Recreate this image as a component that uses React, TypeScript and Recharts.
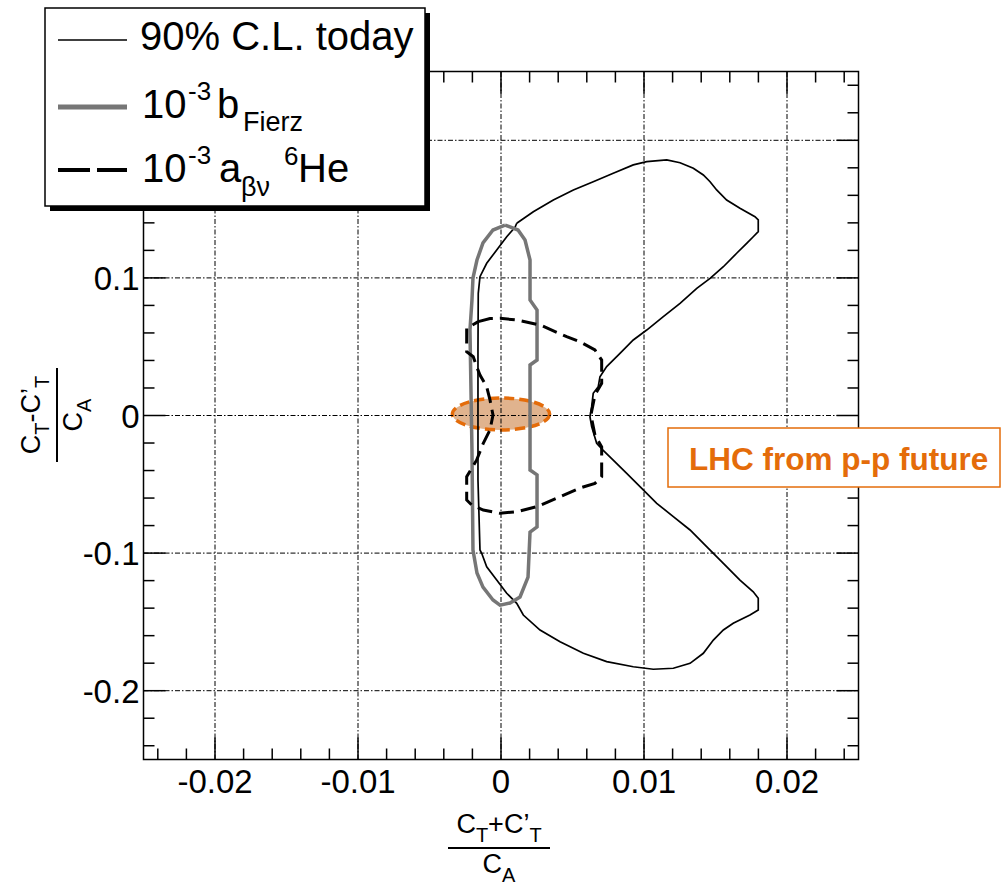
import React from 'react';
import { ScatterChart, Scatter, XAxis, YAxis, ReferenceLine, ReferenceArea } from 'recharts';

// ---------- data ----------
const X_DOMAIN: [number, number] = [-0.025, 0.025];
const Y_DOMAIN: [number, number] = [-0.25, 0.25];

const X_TICKS = [
  -0.024, -0.022, -0.02, -0.018, -0.016, -0.014, -0.012, -0.01, -0.008, -0.006, -0.004, -0.002,
  0, 0.002, 0.004, 0.006, 0.008, 0.01, 0.012, 0.014, 0.016, 0.018, 0.02, 0.022, 0.024,
];
const Y_TICKS = [
  -0.24, -0.22, -0.2, -0.18, -0.16, -0.14, -0.12, -0.1, -0.08, -0.06, -0.04, -0.02,
  0, 0.02, 0.04, 0.06, 0.08, 0.1, 0.12, 0.14, 0.16, 0.18, 0.2, 0.22, 0.24,
];
const X_MAJOR = [-0.02, -0.01, 0, 0.01, 0.02];
const X_LABELS = ['-0.02', '-0.01', '0', '0.01', '0.02'];
const Y_MAJOR = [-0.2, -0.1, 0, 0.1, 0.2];
const Y_LABELS = ['-0.2', '-0.1', '0', '0.1', '0.2'];

// 90% C.L. today (thin black contour)
const TODAY_CL = [
  { x: 0.0011, y: 0.1397 }, { x: 0.00226, y: 0.1481 }, { x: 0.00366, y: 0.1566 }, { x: 0.00506, y: 0.1639 },
  { x: 0.00645, y: 0.1699 }, { x: 0.00785, y: 0.176 }, { x: 0.00925, y: 0.1821 }, { x: 0.01019, y: 0.1845 },
  { x: 0.01159, y: 0.1857 }, { x: 0.01252, y: 0.1837 }, { x: 0.01345, y: 0.1797 }, { x: 0.01415, y: 0.1748 },
  { x: 0.01462, y: 0.1699 }, { x: 0.01508, y: 0.1639 }, { x: 0.01578, y: 0.1566 }, { x: 0.01671, y: 0.1506 },
  { x: 0.01776, y: 0.1445 }, { x: 0.01799, y: 0.1421 }, { x: 0.01799, y: 0.1336 }, { x: 0.01764, y: 0.1299 },
  { x: 0.01718, y: 0.1251 }, { x: 0.01648, y: 0.1179 }, { x: 0.01555, y: 0.1081 }, { x: 0.01462, y: 0.0997 },
  { x: 0.01369, y: 0.0924 }, { x: 0.01252, y: 0.0815 }, { x: 0.01135, y: 0.0718 }, { x: 0.01019, y: 0.0621 },
  { x: 0.00925, y: 0.0549 }, { x: 0.00832, y: 0.0452 }, { x: 0.00739, y: 0.0355 }, { x: 0.00692, y: 0.0282 },
  { x: 0.0068, y: 0.0209 }, { x: 0.00645, y: 0.0161 }, { x: 0.00634, y: 0.0064 }, { x: 0.00622, y: -0.0009 },
  { x: 0.00634, y: -0.0081 }, { x: 0.00669, y: -0.0202 }, { x: 0.00713, y: -0.0251 }, { x: 0.00783, y: -0.0323 },
  { x: 0.00879, y: -0.042 }, { x: 0.00972, y: -0.0517 }, { x: 0.01089, y: -0.0638 }, { x: 0.01205, y: -0.0735 },
  { x: 0.01322, y: -0.0832 }, { x: 0.01438, y: -0.0953 }, { x: 0.01555, y: -0.1074 }, { x: 0.01671, y: -0.1196 },
  { x: 0.01764, y: -0.1281 }, { x: 0.01799, y: -0.1328 }, { x: 0.01799, y: -0.1414 }, { x: 0.01741, y: -0.145 },
  { x: 0.01624, y: -0.151 }, { x: 0.01555, y: -0.1559 }, { x: 0.01485, y: -0.1632 }, { x: 0.01415, y: -0.1728 },
  { x: 0.01322, y: -0.1801 }, { x: 0.01205, y: -0.1837 }, { x: 0.01065, y: -0.1844 }, { x: 0.00925, y: -0.1826 },
  { x: 0.00739, y: -0.1789 }, { x: 0.00576, y: -0.1728 }, { x: 0.00413, y: -0.1644 }, { x: 0.00273, y: -0.1559 },
  { x: 0.00156, y: -0.145 }, { x: 0.0011, y: -0.1365 }, { x: 0.0004, y: -0.1292 }, { x: -0.0003, y: -0.1196 },
  { x: -0.001, y: -0.1099 }, { x: -0.00135, y: -0.1001 }, { x: -0.00147, y: -0.0977 }, { x: -0.00161, y: -0.0469 },
  { x: -0.00161, y: 0.0476 }, { x: -0.00159, y: 0.0888 }, { x: -0.00147, y: 0.1009 }, { x: -0.001, y: 0.1106 },
  { x: -0.0003, y: 0.1203 }, { x: 0.0004, y: 0.1299 }, { x: 0.00098, y: 0.1368 }, { x: 0.0011, y: 0.1397 },
];

// 10^-3 b_Fierz (thick grey contour)
const B_FIERZ = [
  { x: 0.00028, y: 0.1384 }, { x: 0.00119, y: 0.1348 }, { x: 0.00168, y: 0.1275 }, { x: 0.00203, y: 0.113 },
  { x: 0.00203, y: 0.0839 }, { x: 0.00252, y: 0.0767 }, { x: 0.00252, y: 0.0403 }, { x: 0.00203, y: 0.0367 },
  { x: 0.00203, y: -0.0396 }, { x: 0.00252, y: -0.0432 }, { x: 0.00252, y: -0.081 }, { x: 0.00203, y: -0.0847 },
  { x: 0.00189, y: -0.1174 }, { x: 0.00133, y: -0.1319 }, { x: 0.00063, y: -0.1363 }, { x: -0.00007, y: -0.1378 },
  { x: -0.00056, y: -0.1341 }, { x: -0.00126, y: -0.1247 }, { x: -0.00168, y: -0.1145 }, { x: -0.00196, y: -0.0978 },
  { x: -0.00203, y: -0.0251 }, { x: -0.00217, y: 0.0621 }, { x: -0.00203, y: 0.0839 }, { x: -0.00196, y: 0.0999 },
  { x: -0.00168, y: 0.113 }, { x: -0.00126, y: 0.1254 }, { x: -0.00056, y: 0.1348 }, { x: 0.00028, y: 0.1384 },
];

// 10^-3 a_βν 6He (dashed black contour)
const A_BETANU = [
  { x: -0.00159, y: 0.0682 }, { x: -0.00077, y: 0.0705 }, { x: -0.00007, y: 0.0706 }, { x: 0.0011, y: 0.0694 },
  { x: 0.00273, y: 0.0658 }, { x: 0.00459, y: 0.0573 }, { x: 0.00552, y: 0.0536 }, { x: 0.00657, y: 0.0476 },
  { x: 0.00704, y: 0.0403 }, { x: 0.00704, y: 0.0234 }, { x: 0.00657, y: 0.0149 }, { x: 0.00629, y: 0.0004 },
  { x: 0.00657, y: -0.0142 }, { x: 0.00704, y: -0.0229 }, { x: 0.00704, y: -0.0445 }, { x: 0.00657, y: -0.0493 },
  { x: 0.00552, y: -0.0527 }, { x: 0.00413, y: -0.059 }, { x: 0.0025, y: -0.0663 }, { x: 0.0011, y: -0.0699 },
  { x: -0.00007, y: -0.0711 }, { x: -0.00124, y: -0.0687 }, { x: -0.00205, y: -0.065 }, { x: -0.0024, y: -0.0614 },
  { x: -0.0024, y: -0.0445 }, { x: -0.0017, y: -0.0323 }, { x: -0.00124, y: -0.0202 }, { x: -0.00077, y: -0.0105 },
  { x: -0.00056, y: 0.0004 }, { x: -0.00077, y: 0.0113 }, { x: -0.001, y: 0.0209 }, { x: -0.00147, y: 0.0294 },
  { x: -0.0017, y: 0.0355 }, { x: -0.00194, y: 0.0427 }, { x: -0.0024, y: 0.0464 }, { x: -0.0024, y: 0.0634 },
  { x: -0.00159, y: 0.0682 },
];

// highlighted region "LHC from p-p future"
const LHC_REGION = { x1: -0.0034, x2: 0.0034, y1: -0.0105, y2: 0.0127 };
const LHC_TEXT = 'LHC from p-p future';

// ---------- layout / style ----------
const W = 1004;
const H = 887;
const Y_AXIS_W = 100;
const X_AXIS_H = 60;
const MARGIN = { top: 71.5, right: 145.5, bottom: 67.5, left: 43.5 };
const PLOT_LEFT = MARGIN.left + Y_AXIS_W;
const PLOT_TOP = MARGIN.top;
const PLOT_RIGHT = W - MARGIN.right;
const PLOT_BOTTOM = H - MARGIN.bottom - X_AXIS_H;
const MAJOR_LEN = 22;
const MINOR_LEN = 11;
const FONT = '"Liberation Sans", Arial, Helvetica, sans-serif';
const ORANGE = '#e46c0a';

const STYLE_TODAY = { stroke: '#000000', strokeWidth: 1.7 };
const STYLE_FIERZ = { stroke: '#767676', strokeWidth: 3.5 };
const STYLE_ABN = { stroke: '#000000', strokeWidth: 3, strokeDasharray: '15 7' };
const GRID_DASH = '5 2 1.5 2';

const near = (a: number, b: number) => Math.abs(a - b) < 1e-9;

const XTick = (props: any) => {
  const { x, payload } = props;
  const idx = X_MAJOR.findIndex((m) => near(m, payload.value));
  const len = idx >= 0 ? MAJOR_LEN : MINOR_LEN;
  return (
    <g>
      <line x1={x} x2={x} y1={PLOT_BOTTOM} y2={PLOT_BOTTOM - len} stroke="#000" strokeWidth={1.5} />
      <line x1={x} x2={x} y1={PLOT_TOP} y2={PLOT_TOP + len} stroke="#000" strokeWidth={1.5} />
      {idx >= 0 && (
        <text x={x} y={PLOT_BOTTOM + 33} textAnchor="middle" fontSize={33} fontFamily={FONT} fill="#000">
          {X_LABELS[idx]}
        </text>
      )}
    </g>
  );
};

const YTick = (props: any) => {
  const { y, payload } = props;
  const idx = Y_MAJOR.findIndex((m) => near(m, payload.value));
  const len = idx >= 0 ? MAJOR_LEN : MINOR_LEN;
  return (
    <g>
      <line x1={PLOT_LEFT} x2={PLOT_LEFT + len} y1={y} y2={y} stroke="#000" strokeWidth={1.5} />
      <line x1={PLOT_RIGHT} x2={PLOT_RIGHT - len} y1={y} y2={y} stroke="#000" strokeWidth={1.5} />
      {idx >= 0 && (
        <text x={PLOT_LEFT - 4} y={y + 12} textAnchor="end" fontSize={33} fontFamily={FONT} fill="#000">
          {Y_LABELS[idx]}
        </text>
      )}
    </g>
  );
};

const NoShape = () => <g />;

const EllipseShape = (p: any) => {
  const cx = p.x + p.width / 2;
  const cy = p.y + p.height / 2;
  return (
    <ellipse
      cx={cx}
      cy={cy}
      rx={Math.abs(p.width) / 2}
      ry={Math.abs(p.height) / 2}
      fill="#cf8a52"
      fillOpacity={0.65}
      stroke={ORANGE}
      strokeWidth={3.5}
      strokeDasharray="10 5"
    />
  );
};

export default function App() {
  return (
    <div style={{ position: 'absolute', left: 0, top: 0, width: W, height: H, background: '#fff', fontFamily: FONT }}>
      <ScatterChart width={W} height={H} margin={MARGIN}>
        <XAxis
          type="number"
          dataKey="x"
          domain={X_DOMAIN}
          ticks={X_TICKS}
          interval={0}
          height={X_AXIS_H}
          axisLine={false}
          tickLine={false}
          tick={XTick}
        />
        <YAxis
          type="number"
          dataKey="y"
          domain={Y_DOMAIN}
          ticks={Y_TICKS}
          interval={0}
          width={Y_AXIS_W}
          axisLine={false}
          tickLine={false}
          tick={YTick}
        />
        {X_MAJOR.map((v) => (
          <ReferenceLine key={'gx' + v} x={v} stroke="#000" strokeWidth={1} strokeDasharray={GRID_DASH} />
        ))}
        {Y_MAJOR.map((v) => (
          <ReferenceLine key={'gy' + v} y={v} stroke="#000" strokeWidth={1} strokeDasharray={GRID_DASH} />
        ))}
        <ReferenceArea
          x1={X_DOMAIN[0]}
          x2={X_DOMAIN[1]}
          y1={Y_DOMAIN[0]}
          y2={Y_DOMAIN[1]}
          fill="none"
          stroke="#000"
          strokeWidth={1.5}
          ifOverflow="visible"
        />
        <Scatter
          name="90% C.L. today"
          data={TODAY_CL}
          line={{ ...STYLE_TODAY, fill: 'none' }}
          lineType="joint"
          shape={NoShape}
          isAnimationActive={false}
        />
        <Scatter
          name="10-3 bFierz"
          data={B_FIERZ}
          line={{ ...STYLE_FIERZ, fill: 'none' }}
          lineType="joint"
          shape={NoShape}
          isAnimationActive={false}
        />
        <Scatter
          name="10-3 abn 6He"
          data={A_BETANU}
          line={{ ...STYLE_ABN, fill: 'none' }}
          lineType="joint"
          shape={NoShape}
          isAnimationActive={false}
        />
        <ReferenceArea
          x1={LHC_REGION.x1}
          x2={LHC_REGION.x2}
          y1={LHC_REGION.y1}
          y2={LHC_REGION.y2}
          ifOverflow="visible"
          shape={EllipseShape}
        />
      </ScatterChart>

      <svg
        width={W}
        height={H}
        style={{ position: 'absolute', left: 0, top: 0, pointerEvents: 'none' }}
        fontFamily={FONT}
      >
        {/* legend */}
        <rect x={50} y={13} width={380} height={198} fill="#000" />
        <rect x={45} y={8} width={380} height={198} fill="#fff" stroke="#000" strokeWidth={1.5} />
        <line x1={58} x2={127} y1={40} y2={40} stroke={STYLE_TODAY.stroke} strokeWidth={1.5} />
        <text x={140} y={50} fontSize={40} fill="#000">90% C.L. today</text>
        <line x1={58} x2={127} y1={107} y2={107} stroke={STYLE_FIERZ.stroke} strokeWidth={5} />
        <text fontSize={40} fill="#000">
          <tspan x={142} y={118}>10</tspan>
          <tspan x={188} y={100} fontSize={26}>-3</tspan>
          <tspan x={217} y={118}>b</tspan>
          <tspan x={243} y={131} fontSize={27}>Fierz</tspan>
        </text>
        <line x1={58} x2={127} y1={170} y2={170} stroke="#000" strokeWidth={4} strokeDasharray="32 7" />
        <text fontSize={40} fill="#000">
          <tspan x={142} y={182}>10</tspan>
          <tspan x={188} y={164} fontSize={26}>-3</tspan>
          <tspan x={219} y={182}>a</tspan>
          <tspan x={241} y={196} fontSize={27}>βν</tspan>
          <tspan x={284} y={165} fontSize={26}>6</tspan>
          <tspan x={298} y={182}>He</tspan>
        </text>

        {/* x axis title */}
        <text x={499} y={833} textAnchor="middle" fontSize={27} fill="#000">
          C<tspan fontSize={20} dy={9}>T</tspan>
          <tspan dy={-9}>+C’</tspan>
          <tspan fontSize={20} dy={9}>T</tspan>
        </text>
        <line x1={448} x2={550} y1={848} y2={848} stroke="#000" strokeWidth={2} />
        <text x={499} y={873} textAnchor="middle" fontSize={27} fill="#000">
          C<tspan fontSize={20} dy={9}>A</tspan>
        </text>

        {/* y axis title */}
        <g transform="translate(57,415) rotate(-90)">
          <text x={0} y={-17} textAnchor="middle" fontSize={27} fill="#000">
            C<tspan fontSize={20} dy={9}>T</tspan>
            <tspan dy={-9}>-C’</tspan>
            <tspan fontSize={20} dy={9}>T</tspan>
          </text>
          <line x1={-47} x2={47} y1={0} y2={0} stroke="#000" strokeWidth={2} />
          <text x={0} y={25} textAnchor="middle" fontSize={27} fill="#000">
            C<tspan fontSize={20} dy={9}>A</tspan>
          </text>
        </g>

        {/* LHC annotation box */}
        <rect x={668} y={428} width={332} height={59} fill="#fff" stroke={ORANGE} strokeWidth={1.5} />
        <text x={689} y={470} fontSize={31.5} fontWeight="bold" fill={ORANGE}>
          {LHC_TEXT}
        </text>
      </svg>
    </div>
  );
}
